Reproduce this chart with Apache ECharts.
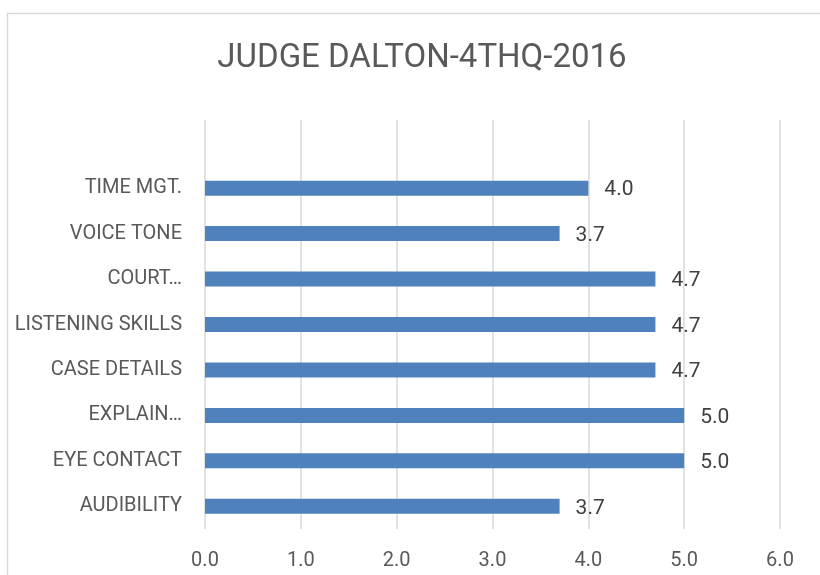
<!DOCTYPE html>
<html>
<head>
<meta charset="utf-8">
<script src="https://cdn.jsdelivr.net/npm/echarts@6/dist/echarts.min.js"></script>
<style>
  html, body { margin: 0; padding: 0; background: #fff; }
  #chart { width: 820px; height: 575px; }
</style>
</head>
<body>
<div id="chart"></div>
<script>
// 数据：从下往上排列（与Excel条形图顺序一致），顶部留一个空类别
const categories = ['AUDIBILITY', 'EYE CONTACT', 'EXPLAIN…', 'CASE DETAILS', 'LISTENING SKILLS', 'COURT…', 'VOICE TONE', 'TIME MGT.', ''];
const scores = [3.7, 5.0, 5.0, 4.7, 4.7, 4.7, 3.7, 4.0, null];
const xTicks = [0, 1, 2, 3, 4, 5, 6];

const FONT = 'Roboto, "Liberation Sans", sans-serif';

const chart = echarts.init(document.getElementById('chart'), null, { renderer: 'canvas' });

chart.setOption({
  backgroundColor: '#fff',
  animation: false,
  // 外框（图表区域边线，右侧和底部超出窗口）
  graphic: [{
    type: 'rect', left: 5, top: 11, z: -1,
    shape: { width: 900, height: 700 },
    style: { fill: 'none', stroke: '#d9d9d9', lineWidth: 1.5 }
  }],
  title: {
    text: 'JUDGE DALTON-4THQ-2016',
    left: 417, top: 37, textAlign: 'center',
    textStyle: { color: '#595959', fontFamily: FONT, fontWeight: 'normal', fontSize: 33 }
  },
  grid: { left: 205, right: 40, top: 120, bottom: 46, containLabel: false },
  xAxis: {
    type: 'value',
    min: xTicks[0], max: xTicks[xTicks.length - 1], interval: 1,
    axisLine: { show: false },
    axisTick: { show: false },
    splitLine: { lineStyle: { color: '#d9d9d9', width: 1.5 } },
    axisLabel: { color: '#595959', fontFamily: FONT, fontSize: 20, margin: 22, formatter: v => v.toFixed(1) }
  },
  yAxis: {
    type: 'category',
    data: categories,
    axisLine: { show: false },
    axisTick: { show: false },
    axisLabel: { color: '#595959', fontFamily: FONT, fontSize: 20, margin: 23 }
  },
  series: [{
    type: 'bar',
    data: scores,
    barWidth: 15,
    itemStyle: { color: '#4f81bd' },
    label: {
      show: true, position: 'right', distance: 16, offset: [0, 2],
      color: '#404040', fontFamily: FONT, fontSize: 21,
      formatter: p => p.value == null ? '' : Number(p.value).toFixed(1)
    }
  }]
});
</script>
</body>
</html>
